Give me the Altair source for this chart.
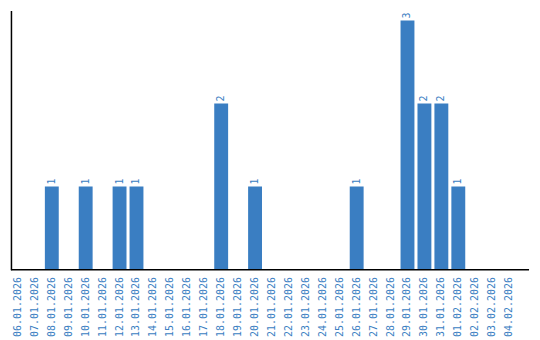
import altair as alt
import pandas as pd

dates = ["06.01.2026", "07.01.2026", "08.01.2026", "09.01.2026", "10.01.2026",
         "11.01.2026", "12.01.2026", "13.01.2026", "14.01.2026", "15.01.2026",
         "16.01.2026", "17.01.2026", "18.01.2026", "19.01.2026", "20.01.2026",
         "21.01.2026", "22.01.2026", "23.01.2026", "24.01.2026", "25.01.2026",
         "26.01.2026", "27.01.2026", "28.01.2026", "29.01.2026", "30.01.2026",
         "31.01.2026", "01.02.2026", "02.02.2026", "03.02.2026", "04.02.2026"]
counts = [0, 0, 1, 0, 1, 0, 1, 1, 0, 0,
          0, 0, 2, 0, 1, 0, 0, 0, 0, 0,
          1, 0, 0, 3, 2, 2, 1, 0, 0, 0]

df = pd.DataFrame({"date": dates, "count": counts})
BLUE = "#3a7ec2"
FONT = "DejaVu Sans Mono"

x = alt.X("date:N", sort=dates, title=None,
          scale=alt.Scale(range=[-1.5, 508.5], paddingInner=0.18, paddingOuter=0.09),
          axis=alt.Axis(labelAngle=270, domain=False, ticks=False, labelPadding=7,
                        labelFont=FONT, labelFontSize=10, labelColor=BLUE, grid=False))
y = alt.Y("count:Q", title=None, scale=alt.Scale(domain=[0, 3.12], nice=False),
          axis=alt.Axis(labels=False, ticks=False, grid=False, domainColor="black",
                        domainWidth=1.5))

bars = alt.Chart(df).mark_bar(color=BLUE).encode(x=x, y=y)
labels = alt.Chart(df).transform_filter("datum.count > 0").mark_text(
    angle=270, align="left", baseline="middle", dx=2,
    font=FONT, fontSize=10, color=BLUE).encode(x=x, y=y, text="count:Q")
base = alt.Chart(pd.DataFrame({"v": [0]})).mark_rule(color="black", strokeWidth=1.5).encode(
    x=alt.value(0), x2=alt.value(520), y=alt.value(260))

chart = alt.layer(bars, labels, base).properties(
    width=520, height=260,
    padding={"left": 10, "top": 10, "right": 10, "bottom": 5}
).configure_view(stroke=None)

chart.save("out.html", embed_options={"renderer": "svg", "actions": False})
